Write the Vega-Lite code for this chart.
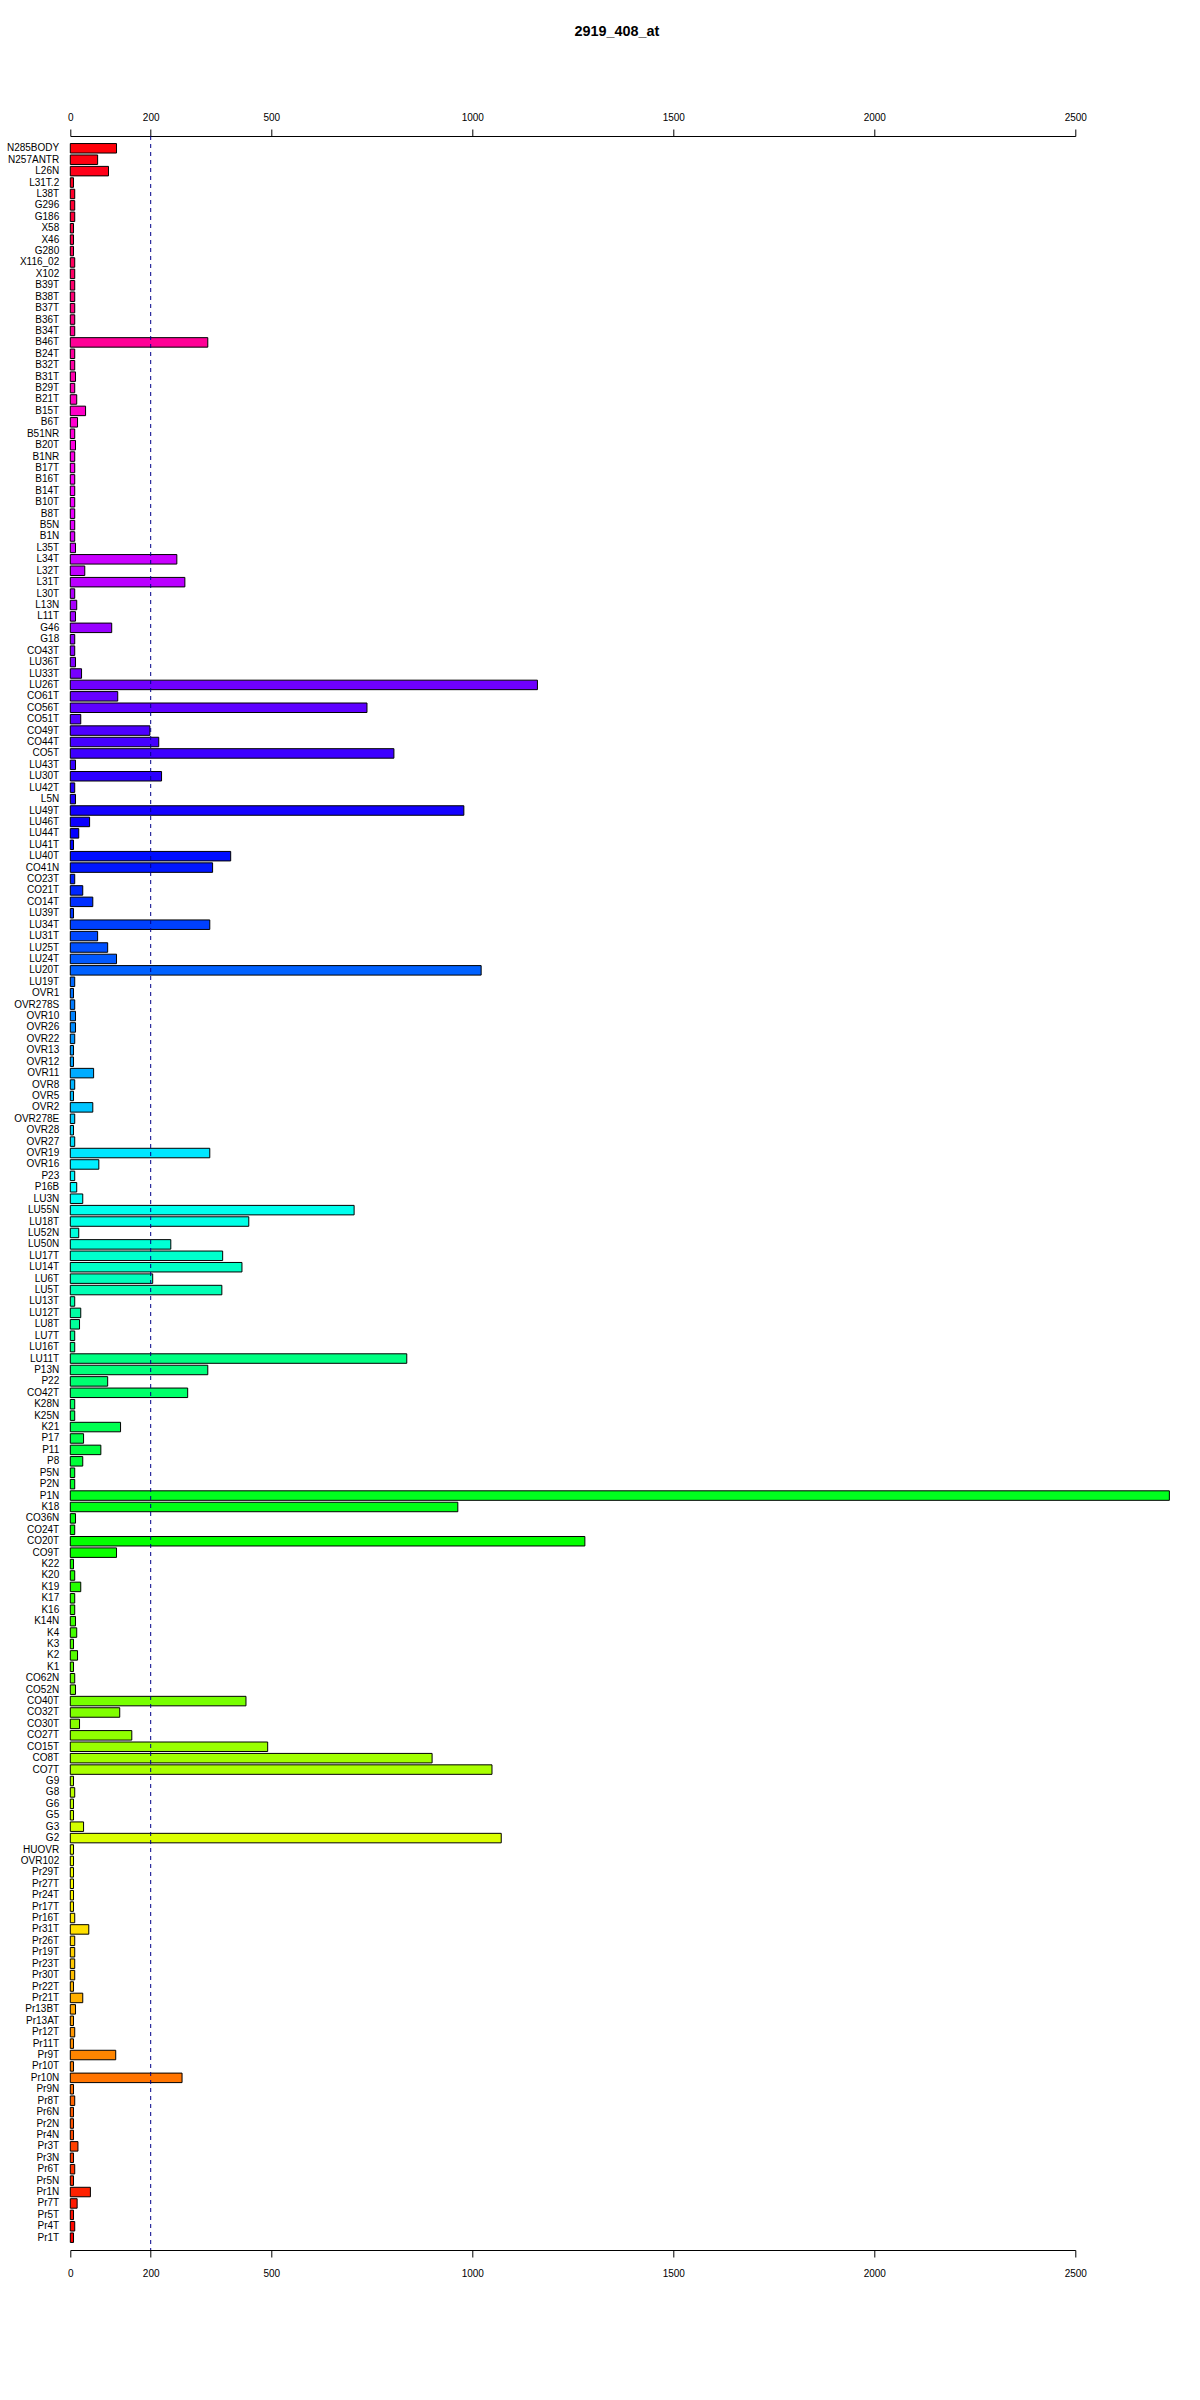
{
  "$schema": "https://vega.github.io/schema/vega-lite/v6.json",
  "width": 1005,
  "height": 2114,
  "autosize": {"type": "none"},
  "padding": {"left": 70.3, "top": 136, "right": 124.7, "bottom": 150},
  "background": "white",
  "title": {"text": "2919_408_at", "font": "Liberation Sans", "fontSize": 14.4, "fontWeight": "bold", "color": "black", "anchor": "middle", "frame": "group", "dx": 44, "offset": 73},
  "config": {"view": {"stroke": null}},
  "layer": [
    {
      "data": {"values": [
        {"name": "N285BODY", "value": 115}, {"name": "N257ANTR", "value": 68}, {"name": "L26N", "value": 95}, {"name": "L31T.2", "value": 8},
        {"name": "L38T", "value": 11}, {"name": "G296", "value": 11}, {"name": "G186", "value": 11}, {"name": "X58", "value": 8},
        {"name": "X46", "value": 8}, {"name": "G280", "value": 8}, {"name": "X116_02", "value": 11}, {"name": "X102", "value": 11},
        {"name": "B39T", "value": 11}, {"name": "B38T", "value": 11}, {"name": "B37T", "value": 11}, {"name": "B36T", "value": 11},
        {"name": "B34T", "value": 11}, {"name": "B46T", "value": 342}, {"name": "B24T", "value": 11}, {"name": "B32T", "value": 11},
        {"name": "B31T", "value": 13}, {"name": "B29T", "value": 11}, {"name": "B21T", "value": 16}, {"name": "B15T", "value": 38},
        {"name": "B6T", "value": 18}, {"name": "B51NR", "value": 11}, {"name": "B20T", "value": 13}, {"name": "B1NR", "value": 11},
        {"name": "B17T", "value": 11}, {"name": "B16T", "value": 11}, {"name": "B14T", "value": 11}, {"name": "B10T", "value": 11},
        {"name": "B8T", "value": 11}, {"name": "B5N", "value": 11}, {"name": "B1N", "value": 11}, {"name": "L35T", "value": 13},
        {"name": "L34T", "value": 265}, {"name": "L32T", "value": 36}, {"name": "L31T", "value": 285}, {"name": "L30T", "value": 11},
        {"name": "L13N", "value": 16}, {"name": "L11T", "value": 13}, {"name": "G46", "value": 103}, {"name": "G18", "value": 11},
        {"name": "CO43T", "value": 11}, {"name": "LU36T", "value": 13}, {"name": "LU33T", "value": 28}, {"name": "LU26T", "value": 1162},
        {"name": "CO61T", "value": 118}, {"name": "CO56T", "value": 738}, {"name": "CO51T", "value": 26}, {"name": "CO49T", "value": 198},
        {"name": "CO44T", "value": 220}, {"name": "CO5T", "value": 805}, {"name": "LU43T", "value": 13}, {"name": "LU30T", "value": 227},
        {"name": "LU42T", "value": 11}, {"name": "L5N", "value": 13}, {"name": "LU49T", "value": 979}, {"name": "LU46T", "value": 48},
        {"name": "LU44T", "value": 21}, {"name": "LU41T", "value": 8}, {"name": "LU40T", "value": 399}, {"name": "CO41N", "value": 354},
        {"name": "CO23T", "value": 11}, {"name": "CO21T", "value": 31}, {"name": "CO14T", "value": 56}, {"name": "LU39T", "value": 8},
        {"name": "LU34T", "value": 347}, {"name": "LU31T", "value": 68}, {"name": "LU25T", "value": 93}, {"name": "LU24T", "value": 115},
        {"name": "LU20T", "value": 1022}, {"name": "LU19T", "value": 11}, {"name": "OVR1", "value": 8}, {"name": "OVR278S", "value": 11},
        {"name": "OVR10", "value": 13}, {"name": "OVR26", "value": 13}, {"name": "OVR22", "value": 11}, {"name": "OVR13", "value": 8},
        {"name": "OVR12", "value": 8}, {"name": "OVR11", "value": 58}, {"name": "OVR8", "value": 11}, {"name": "OVR5", "value": 8},
        {"name": "OVR2", "value": 56}, {"name": "OVR278E", "value": 11}, {"name": "OVR28", "value": 8}, {"name": "OVR27", "value": 11},
        {"name": "OVR19", "value": 347}, {"name": "OVR16", "value": 71}, {"name": "P23", "value": 11}, {"name": "P16B", "value": 16},
        {"name": "LU3N", "value": 31}, {"name": "LU55N", "value": 706}, {"name": "LU18T", "value": 444}, {"name": "LU52N", "value": 21},
        {"name": "LU50N", "value": 250}, {"name": "LU17T", "value": 379}, {"name": "LU14T", "value": 427}, {"name": "LU6T", "value": 205},
        {"name": "LU5T", "value": 377}, {"name": "LU13T", "value": 11}, {"name": "LU12T", "value": 26}, {"name": "LU8T", "value": 23},
        {"name": "LU7T", "value": 11}, {"name": "LU16T", "value": 11}, {"name": "LU11T", "value": 837}, {"name": "P13N", "value": 342},
        {"name": "P22", "value": 93}, {"name": "CO42T", "value": 292}, {"name": "K28N", "value": 11}, {"name": "K25N", "value": 11},
        {"name": "K21", "value": 125}, {"name": "P17", "value": 33}, {"name": "P11", "value": 76}, {"name": "P8", "value": 31},
        {"name": "P5N", "value": 11}, {"name": "P2N", "value": 11}, {"name": "P1N", "value": 2734}, {"name": "K18", "value": 964},
        {"name": "CO36N", "value": 13}, {"name": "CO24T", "value": 11}, {"name": "CO20T", "value": 1280}, {"name": "CO9T", "value": 115},
        {"name": "K22", "value": 8}, {"name": "K20", "value": 11}, {"name": "K19", "value": 26}, {"name": "K17", "value": 11},
        {"name": "K16", "value": 11}, {"name": "K14N", "value": 13}, {"name": "K4", "value": 16}, {"name": "K3", "value": 8},
        {"name": "K2", "value": 18}, {"name": "K1", "value": 8}, {"name": "CO62N", "value": 11}, {"name": "CO52N", "value": 13},
        {"name": "CO40T", "value": 437}, {"name": "CO32T", "value": 123}, {"name": "CO30T", "value": 23}, {"name": "CO27T", "value": 153},
        {"name": "CO15T", "value": 491}, {"name": "CO8T", "value": 900}, {"name": "CO7T", "value": 1049}, {"name": "G9", "value": 8},
        {"name": "G8", "value": 11}, {"name": "G6", "value": 8}, {"name": "G5", "value": 8}, {"name": "G3", "value": 33},
        {"name": "G2", "value": 1072}, {"name": "HUOVR", "value": 8}, {"name": "OVR102", "value": 8}, {"name": "Pr29T", "value": 8},
        {"name": "Pr27T", "value": 8}, {"name": "Pr24T", "value": 8}, {"name": "Pr17T", "value": 8}, {"name": "Pr16T", "value": 11},
        {"name": "Pr31T", "value": 46}, {"name": "Pr26T", "value": 11}, {"name": "Pr19T", "value": 11}, {"name": "Pr23T", "value": 11},
        {"name": "Pr30T", "value": 11}, {"name": "Pr22T", "value": 8}, {"name": "Pr21T", "value": 31}, {"name": "Pr13BT", "value": 13},
        {"name": "Pr13AT", "value": 8}, {"name": "Pr12T", "value": 11}, {"name": "Pr11T", "value": 8}, {"name": "Pr9T", "value": 113},
        {"name": "Pr10T", "value": 8}, {"name": "Pr10N", "value": 278}, {"name": "Pr9N", "value": 8}, {"name": "Pr8T", "value": 11},
        {"name": "Pr6N", "value": 8}, {"name": "Pr2N", "value": 8}, {"name": "Pr4N", "value": 8}, {"name": "Pr3T", "value": 19},
        {"name": "Pr3N", "value": 8}, {"name": "Pr6T", "value": 11}, {"name": "Pr5N", "value": 8}, {"name": "Pr1N", "value": 50},
        {"name": "Pr7T", "value": 17}, {"name": "Pr5T", "value": 8}, {"name": "Pr4T", "value": 11}, {"name": "Pr1T", "value": 8}
      ]},
      "transform": [{"window": [{"op": "row_number", "as": "idx"}]}],
      "mark": {"type": "bar", "stroke": "black", "strokeWidth": 1},
      "encoding": {
        "y": {
          "field": "name", "type": "nominal", "sort": null,
          "scale": {"paddingInner": 0.168, "paddingOuter": 0.661},
          "axis": {"title": null, "ticks": false, "domain": false, "labelFont": "Liberation Sans", "labelFontSize": 10, "labelColor": "black", "labelPadding": 11.6, "labelOverlap": false, "labelLimit": 0}
        },
        "x": {
          "field": "value", "type": "quantitative",
          "scale": {"domain": [0, 2500], "nice": false, "zero": true},
          "axis": {"orient": "top", "title": null, "grid": false, "format": "d", "values": [0, 200, 500, 1000, 1500, 2000, 2500], "tickSize": 7, "tickColor": "black", "domainColor": "black", "labelFont": "Liberation Sans", "labelFontSize": 10, "labelColor": "black", "labelPadding": 6.5, "labelFlush": false, "labelOverlap": false}
        },
        "color": {
          "field": "idx", "type": "quantitative", "legend": null,
          "scale": {"domain": [1, 62, 123, 184], "range": ["hsl(358,100%,50%)", "hsl(238.7,100%,50%)", "hsl(119.3,100%,50%)", "hsl(0,100%,50%)"], "interpolate": "hsl"}
        }
      }
    },
    {
      "data": {"values": [{"ref": 200}]},
      "mark": {"type": "rule", "color": "#00008B", "strokeWidth": 1, "strokeDash": [4, 4]},
      "encoding": {
        "x": {
          "field": "ref", "type": "quantitative",
          "axis": {"orient": "bottom", "title": null, "grid": false, "format": "d", "values": [0, 200, 500, 1000, 1500, 2000, 2500], "tickSize": 7, "tickColor": "black", "domainColor": "black", "labelFont": "Liberation Sans", "labelFontSize": 10, "labelColor": "black", "labelPadding": 11, "labelFlush": false, "labelOverlap": false}
        }
      }
    }
  ],
  "resolve": {"axis": {"x": "independent"}}
}
